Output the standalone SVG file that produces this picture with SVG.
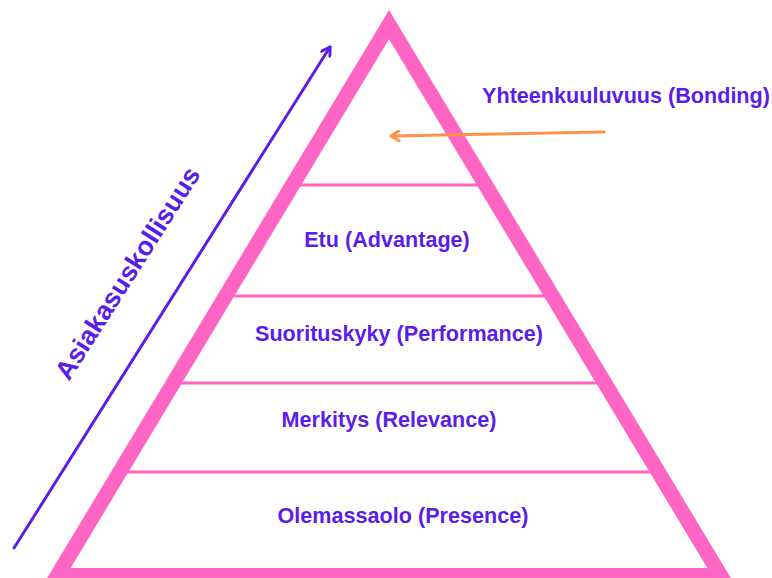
<svg xmlns="http://www.w3.org/2000/svg" width="772" height="578" viewBox="0 0 772 578">
  <defs>
    <style>
      .lbl { font-family: "Liberation Sans", Arial, sans-serif; font-weight: bold; font-size: 21.6px; fill: #5a1ee8; text-anchor: middle; }
      .tier { stroke: #ff66c4; stroke-width: 3; }
    </style>
    <marker id="chevPurple" viewBox="0 0 12 12" refX="10" refY="6" markerWidth="12" markerHeight="12" markerUnits="userSpaceOnUse" orient="auto">
      <path d="M2,1 L10,6 L2,11" fill="none" stroke="#5a1ee8" stroke-width="3" stroke-linecap="round" stroke-linejoin="round"/>
    </marker>
    <marker id="chevOrange" viewBox="0 0 12 12" refX="10" refY="6" markerWidth="12" markerHeight="12" markerUnits="userSpaceOnUse" orient="auto">
      <path d="M2,1 L10,6 L2,11" fill="none" stroke="#ff914d" stroke-width="3" stroke-linecap="round" stroke-linejoin="round"/>
    </marker>
  </defs>
  <rect width="772" height="578" fill="#ffffff"/>

  <g id="pyramid">
    <line class="tier" x1="290" y1="185" x2="488" y2="185"/>
    <line class="tier" x1="225" y1="296" x2="553" y2="296"/>
    <line class="tier" x1="170" y1="383" x2="608" y2="383"/>
    <line class="tier" x1="116" y1="472" x2="662" y2="472"/>
    <polygon points="389,24.6 57.4,575.5 720.6,575.5" fill="none" stroke="#ff66c4" stroke-width="15" stroke-linejoin="miter" stroke-miterlimit="10"/>
  </g>

  <g id="bonding"><text class="lbl" x="626" y="103">Yhteenkuuluvuus (Bonding)</text></g>
  <g id="advantage"><text class="lbl" x="387" y="247">Etu (Advantage)</text></g>
  <g id="performance"><text class="lbl" x="399" y="341">Suorituskyky (Performance)</text></g>
  <g id="relevance"><text class="lbl" x="389" y="427">Merkitys (Relevance)</text></g>
  <g id="presence"><text class="lbl" x="403" y="523">Olemassaolo (Presence)</text></g>
  <g id="loyalty"><text class="lbl" style="font-size:26.5px" transform="translate(135,278) rotate(-57.5)" x="0" y="0">Asiakasuskollisuus</text></g>

  <g id="connectors">
    <line x1="14" y1="548" x2="330" y2="47" stroke="#5a1ee8" stroke-width="3" stroke-linecap="round" marker-end="url(#chevPurple)"/>
    <line x1="604" y1="132" x2="391" y2="136" stroke="#ff914d" stroke-width="3" stroke-linecap="round" marker-end="url(#chevOrange)"/>
  </g>
</svg>
